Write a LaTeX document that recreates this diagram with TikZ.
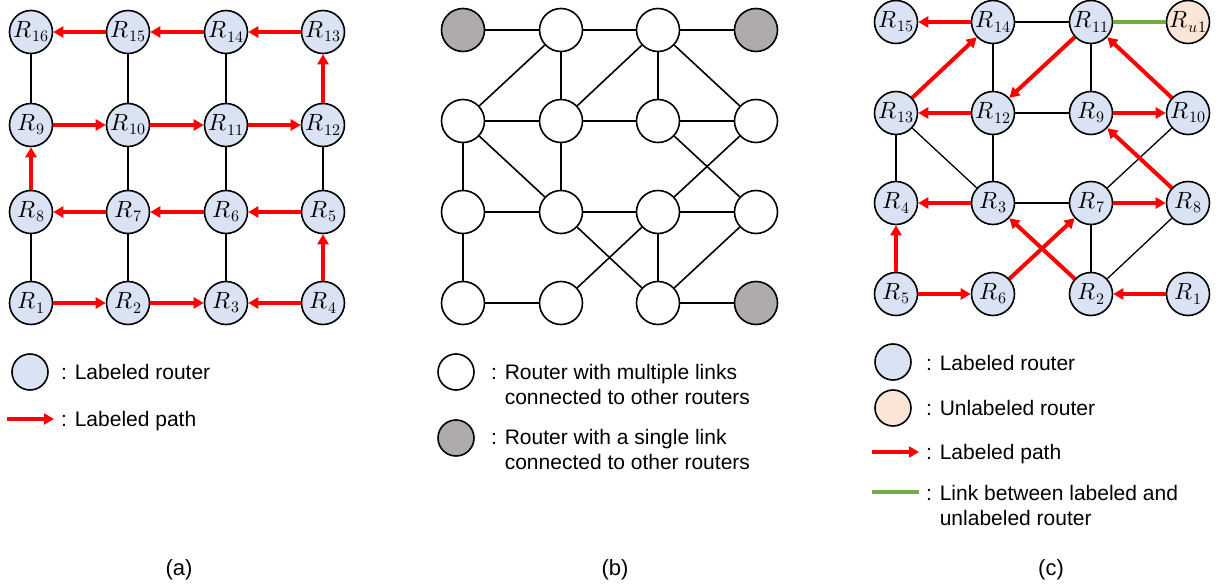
\documentclass[tikz,border=0pt]{standalone}
\usepackage{fontspec}
\usepackage{unicode-math}
\setmainfont{Liberation Sans}
\setmathfont{Latin Modern Math}
\usetikzlibrary{arrows.meta}
\definecolor{lblue}{HTML}{DAE3F3}
\definecolor{lpeach}{HTML}{FBE5D6}
\definecolor{lgray}{HTML}{AFABAB}
\definecolor{lgreen}{HTML}{70AD47}
\newcommand{\Rlab}[1]{\fontsize{23.5}{27}\selectfont$R$\kern0.5pt\raisebox{-4.2pt}{\fontsize{16}{18}\selectfont$#1$}}
\begin{document}
\begin{tikzpicture}[x=1pt,y=-1pt,
  router/.style={circle, draw=black, line width=1.6pt, fill=lblue, minimum size=43pt, inner sep=0pt},
  urouter/.style={router, fill=lpeach},
  wrouter/.style={router, fill=white},
  grouter/.style={router, fill=lgray},
  legcirc/.style={circle, draw=black, line width=1.6pt, minimum size=36pt, inner sep=0pt},
  redarrow/.style={draw=red, line width=4pt, -{Triangle[length=10pt,width=11pt]}},
  link/.style={draw=black, line width=1.6pt},
  thinlink/.style={draw=black, line width=1.3pt},
  greenlink/.style={draw=lgreen, line width=4pt},
  legtext/.style={anchor=base west, inner sep=0pt, align=left, font=\fontsize{21}{25}\selectfont},
  caption/.style={anchor=base, inner sep=0pt, font=\fontsize{22}{26}\selectfont}]
\useasboundingbox (0,0) rectangle (1227,588);

% ---------------- Panel (a) ----------------
\node[router] (a16) at (31,32) {\Rlab{16}};
\node[router] (a15) at (128,32) {\Rlab{15}};
\node[router] (a14) at (226,32) {\Rlab{14}};
\node[router] (a13) at (323,32) {\Rlab{13}};
\node[router] (a9) at (31,125) {\Rlab{9}};
\node[router] (a10) at (128,125) {\Rlab{10}};
\node[router] (a11) at (226,125) {\Rlab{11}};
\node[router] (a12) at (323,125) {\Rlab{12}};
\node[router] (a8) at (31,212) {\Rlab{8}};
\node[router] (a7) at (128,212) {\Rlab{7}};
\node[router] (a6) at (226,212) {\Rlab{6}};
\node[router] (a5) at (323,212) {\Rlab{5}};
\node[router] (a1) at (31,303) {\Rlab{1}};
\node[router] (a2) at (128,303) {\Rlab{2}};
\node[router] (a3) at (226,303) {\Rlab{3}};
\node[router] (a4) at (323,303) {\Rlab{4}};

\draw[link] (a16) -- (a9);
\draw[link] (a15) -- (a10);
\draw[link] (a14) -- (a11);
\draw[link] (a10) -- (a7);
\draw[link] (a11) -- (a6);
\draw[link] (a12) -- (a5);
\draw[link] (a8) -- (a1);
\draw[link] (a7) -- (a2);
\draw[link] (a6) -- (a3);

\draw[redarrow] (a13) -- (a14);
\draw[redarrow] (a14) -- (a15);
\draw[redarrow] (a15) -- (a16);
\draw[redarrow] (a12) -- (a13);
\draw[redarrow] (a9) -- (a10);
\draw[redarrow] (a10) -- (a11);
\draw[redarrow] (a11) -- (a12);
\draw[redarrow] (a8) -- (a9);
\draw[redarrow] (a5) -- (a6);
\draw[redarrow] (a6) -- (a7);
\draw[redarrow] (a7) -- (a8);
\draw[redarrow] (a4) -- (a5);
\draw[redarrow] (a1) -- (a2);
\draw[redarrow] (a2) -- (a3);
\draw[redarrow] (a4) -- (a3);

% legend (a)
\node[legcirc, fill=lblue] (la1) at (30,372) {};
\node[legtext] (la1t) at (61,379) {: Labeled router};
\coordinate (la2s) at (7,419);
\coordinate (la2e) at (54,419);
\draw[redarrow] (la2s) -- (la2e);
\node[legtext] (la2t) at (61,426) {: Labeled path};
\node[caption] (capa) at (179,575) {(a)};

% ---------------- Panel (b) ----------------
\node[grouter] (b11) at (463,30) {};
\node[wrouter] (b21) at (561,30) {};
\node[wrouter] (b31) at (658,30) {};
\node[grouter] (b41) at (756,30) {};
\node[wrouter] (b12) at (463,121) {};
\node[wrouter] (b22) at (561,121) {};
\node[wrouter] (b32) at (658,121) {};
\node[wrouter] (b42) at (756,121) {};
\node[wrouter] (b13) at (463,212) {};
\node[wrouter] (b23) at (561,212) {};
\node[wrouter] (b33) at (658,212) {};
\node[wrouter] (b43) at (756,212) {};
\node[wrouter] (b14) at (463,303) {};
\node[wrouter] (b24) at (561,303) {};
\node[wrouter] (b34) at (658,303) {};
\node[grouter] (b44) at (756,303) {};

\draw[link] (b11) -- (b21);
\draw[link] (b21) -- (b31);
\draw[link] (b31) -- (b41);
\draw[link] (b21) -- (b12);
\draw[link] (b21) -- (b22);
\draw[link] (b31) -- (b22);
\draw[link] (b31) -- (b32);
\draw[link] (b31) -- (b42);
\draw[link] (b12) -- (b22);
\draw[link] (b22) -- (b32);
\draw[link] (b32) -- (b42);
\draw[link] (b12) -- (b13);
\draw[link] (b12) -- (b23);
\draw[link] (b22) -- (b23);
\draw[link] (b32) -- (b43);
\draw[link] (b42) -- (b33);
\draw[link] (b13) -- (b23);
\draw[link] (b23) -- (b33);
\draw[link] (b33) -- (b43);
\draw[link] (b13) -- (b14);
\draw[link] (b23) -- (b34);
\draw[link] (b33) -- (b24);
\draw[link] (b33) -- (b34);
\draw[link] (b43) -- (b34);
\draw[link] (b14) -- (b24);
\draw[link] (b34) -- (b44);

% legend (b)
\node[legcirc, fill=white] (lb1) at (456,372) {};
\node[legtext] (lb1t) at (491,404) {: Router with multiple links\\\phantom{: }connected to other routers};
\node[legcirc, fill=lgray] (lb2) at (456,438) {};
\node[legtext] (lb2t) at (491,469) {: Router with a single link\\\phantom{: }connected to other routers};
\node[caption] (capb) at (615,575) {(b)};

% ---------------- Panel (c) ----------------
\node[router] (c15) at (896,22) {\Rlab{15}};
\node[router] (c14) at (993,22) {\Rlab{14}};
\node[router] (c11) at (1091,22) {\Rlab{11}};
\node[urouter] (cu1) at (1188,22) {\Rlab{u1}};
\node[router] (c13) at (896,113) {\Rlab{13}};
\node[router] (c12) at (993,113) {\Rlab{12}};
\node[router] (c9) at (1091,113) {\Rlab{9}};
\node[router] (c10) at (1188,113) {\Rlab{10}};
\node[router] (c4) at (896,203) {\Rlab{4}};
\node[router] (c3) at (993,203) {\Rlab{3}};
\node[router] (c7) at (1091,203) {\Rlab{7}};
\node[router] (c8) at (1188,203) {\Rlab{8}};
\node[router] (c5) at (896,294) {\Rlab{5}};
\node[router] (c6) at (993,294) {\Rlab{6}};
\node[router] (c2) at (1091,294) {\Rlab{2}};
\node[router] (c1) at (1188,294) {\Rlab{1}};

\draw[thinlink] (c14) -- (c11);
\draw[greenlink] (c11) -- (cu1);
\draw[thinlink] (c14) -- (c12);
\draw[thinlink] (c11) -- (c9);
\draw[thinlink] (c12) -- (c9);
\draw[thinlink] (c13) -- (c4);
\draw[thinlink] (c13) -- (c3);
\draw[thinlink] (c12) -- (c3);
\draw[thinlink] (c10) -- (c7);
\draw[thinlink] (c3) -- (c7);
\draw[thinlink] (c7) -- (c2);
\draw[thinlink] (c8) -- (c2);

\draw[redarrow] (c14) -- (c15);
\draw[redarrow] (c13) -- (c14);
\draw[redarrow] (c11) -- (c12);
\draw[redarrow] (c10) -- (c11);
\draw[redarrow] (c12) -- (c13);
\draw[redarrow] (c9) -- (c10);
\draw[redarrow] (c8) -- (c9);
\draw[redarrow] (c3) -- (c4);
\draw[redarrow] (c7) -- (c8);
\draw[redarrow] (c5) -- (c4);
\draw[redarrow] (c6) -- (c7);
\draw[redarrow] (c2) -- (c3);
\draw[redarrow] (c5) -- (c6);
\draw[redarrow] (c1) -- (c2);

% legend (c)
\node[legcirc, fill=lblue] (lc1) at (893,362) {};
\node[legtext] (lc1t) at (926,370) {: Labeled router};
\node[legcirc, fill=lpeach] (lc2) at (893,408) {};
\node[legtext] (lc2t) at (926,415) {: Unlabeled router};
\coordinate (lc3s) at (872,452);
\coordinate (lc3e) at (919,452);
\draw[redarrow] (lc3s) -- (lc3e);
\node[legtext] (lc3t) at (926,459) {: Labeled path};
\coordinate (lc4s) at (872,492);
\coordinate (lc4e) at (919,492);
\draw[greenlink] (lc4s) -- (lc4e);
\node[legtext] (lc4t) at (926,525) {: Link between labeled and\\\phantom{: }unlabeled router};
\node[caption] (capc) at (1051,575) {(c)};
\end{tikzpicture}
\end{document}
